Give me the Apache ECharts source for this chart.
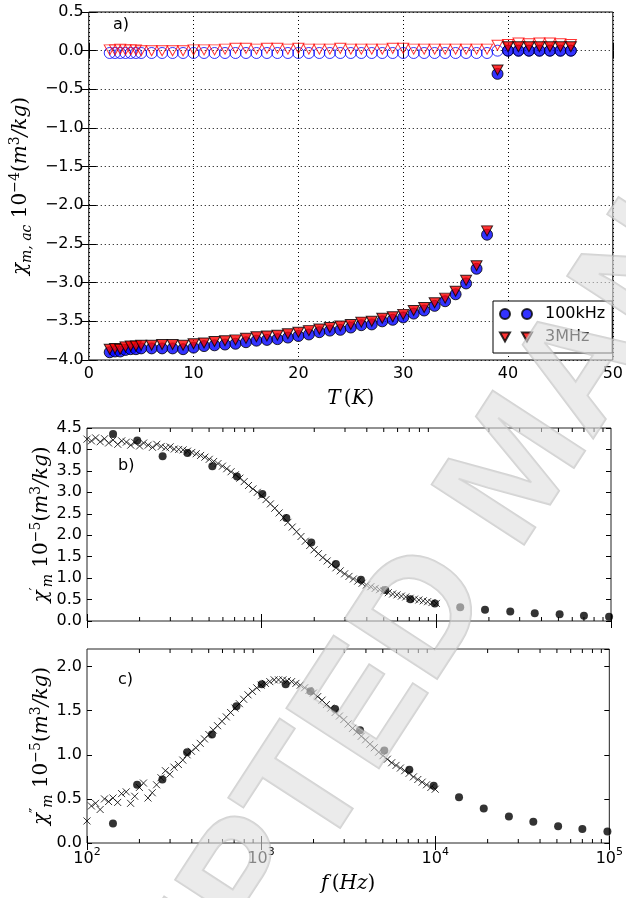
<!DOCTYPE html>
<html><head><meta charset="utf-8">
<script src="https://cdn.jsdelivr.net/npm/echarts@6/dist/echarts.min.js"></script>
<style>html,body{margin:0;padding:0;background:#fff}#c{width:626px;height:898px}</style>
</head><body><div id="c"></div>
<script>
// ---------- Panel a: chi_m,ac vs T ----------
const T = [2,2.5,3,3.5,4,4.5,5,
  6,7,8,9,10,11,12,13,14,15,
  16,17,18,19,20,21,22,23,24,25,
  26,27,28,29,30,31,32,33,34,35,
  36,37,38,39,
  40,41,42,43,44,45,46];
const chiRe100k = [-3.90,-3.89,-3.89,-3.87,-3.86,-3.86,-3.85,
  -3.85,-3.85,-3.85,-3.86,-3.84,-3.82,-3.81,-3.80,-3.79,-3.77,
  -3.75,-3.74,-3.73,-3.71,-3.69,-3.67,-3.64,-3.62,-3.61,-3.58,
  -3.55,-3.54,-3.50,-3.48,-3.45,-3.40,-3.36,-3.30,-3.24,-3.15,
  -3.01,-2.82,-2.38,-0.30,
  0.00,0.00,0.00,0.00,0.00,0.00,0.00];
const chiRe3M = [-3.86,-3.85,-3.86,-3.83,-3.82,-3.82,-3.81,
  -3.81,-3.80,-3.80,-3.81,-3.79,-3.78,-3.76,-3.75,-3.74,-3.72,
  -3.70,-3.69,-3.68,-3.66,-3.64,-3.62,-3.60,-3.58,-3.56,-3.54,
  -3.51,-3.50,-3.46,-3.44,-3.41,-3.36,-3.32,-3.26,-3.20,-3.11,
  -2.97,-2.78,-2.33,-0.25,
  0.05,0.05,0.05,0.05,0.05,0.05,0.05];
const chiIm100k = [-0.03,-0.03,-0.03,-0.03,-0.03,-0.03,-0.03,
  -0.03,-0.03,-0.03,-0.03,-0.03,-0.03,-0.03,-0.03,-0.03,-0.03,
  -0.03,-0.03,-0.03,-0.03,-0.03,-0.03,-0.03,-0.03,-0.03,-0.03,
  -0.03,-0.03,-0.03,-0.03,-0.03,-0.03,-0.03,-0.03,-0.03,-0.03,
  -0.03,-0.03,-0.03,0.00,
  0.00,0.00,0.00,0.00,0.00,0.00,0.00];
const chiIm3M = [0.01,0.01,0.02,0.01,0.01,0.01,0.00,
  0.00,0.00,0.00,0.00,0.01,0.01,0.01,0.02,0.03,0.03,
  0.02,0.03,0.03,0.02,0.03,0.02,0.02,0.02,0.03,0.02,
  0.02,0.02,0.02,0.03,0.03,0.02,0.02,0.02,0.02,0.02,
  0.02,0.02,0.02,0.07,
  0.08,0.10,0.09,0.10,0.10,0.09,0.08];

// ---------- Panels b, c: chi' and chi'' vs f ----------
const freqDots = [141,194,271,376,522,722,1009,1384,1923,2660,3700,5100,7100,9800,13700,19000,26500,36600,50800,70000,97500];
const chiPrimeDots = [4.36,4.21,3.84,3.92,3.61,3.37,2.96,2.40,1.83,1.33,0.96,0.72,0.51,0.41,0.32,0.26,0.22,0.18,0.16,0.12,0.10];
const chiDPrimeDots = [0.22,0.66,0.72,1.03,1.23,1.55,1.80,1.80,1.72,1.52,1.28,1.05,0.83,0.65,0.52,0.39,0.30,0.24,0.19,0.16,0.13];

const freqFit = [100,106,112,119,126,133,141,150,158,168,
  178,188,200,211,224,237,251,266,282,299,
  316,335,355,376,398,422,447,473,501,531,
  562,596,631,668,708,750,794,841,891,944,
  1000,1059,1122,1189,1259,1334,1413,1496,1585,1679,
  1778,1884,1995,2113,2239,2371,2512,2661,2818,2985,
  3162,3350,3548,3758,3981,4217,4467,4732,5012,5309,
  5623,5957,6310,6683,7079,7499,7943,8414,8913,9441,
  10000];
const chiPrimeFit = [4.24,4.20,4.27,4.18,4.25,4.15,4.22,4.12,4.20,4.17,
  4.10,4.16,4.08,4.15,4.10,4.05,4.12,4.07,4.04,4.06,
  4.01,4.00,3.99,3.96,3.93,3.90,3.86,3.82,3.77,3.72,
  3.67,3.61,3.55,3.48,3.41,3.33,3.25,3.16,3.08,3.00,
  2.92,2.83,2.73,2.63,2.52,2.41,2.30,2.19,2.08,1.97,
  1.86,1.76,1.66,1.57,1.48,1.40,1.32,1.24,1.17,1.10,
  1.04,0.98,0.93,0.88,0.84,0.80,0.76,0.73,0.70,0.66,
  0.63,0.61,0.58,0.56,0.53,0.51,0.49,0.47,0.45,0.43,
  0.41];
const chiDPrimeFit = [0.25,0.42,0.45,0.38,0.50,0.47,0.51,0.46,0.56,0.58,
  0.45,0.53,0.63,0.68,0.51,0.57,0.66,0.74,0.82,0.78,
  0.86,0.89,0.94,1.00,1.04,1.08,1.13,1.18,1.23,1.28,
  1.33,1.38,1.43,1.48,1.53,1.58,1.63,1.68,1.72,1.76,
  1.79,1.81,1.83,1.85,1.85,1.85,1.84,1.83,1.81,1.79,
  1.76,1.73,1.70,1.66,1.62,1.57,1.53,1.48,1.44,1.40,
  1.35,1.30,1.26,1.21,1.17,1.12,1.08,1.03,0.99,0.95,
  0.91,0.88,0.85,0.82,0.79,0.75,0.72,0.69,0.66,0.63,
  0.61];

const minorTicks = [200,300,400,500,600,700,800,900,
  2000,3000,4000,5000,6000,7000,8000,9000,
  20000,30000,40000,50000,60000,70000,80000,90000];

const legendNames = ['100kHz','3MHz'];
const panelLabels = ['a)','b)','c)'];

// ---------- chart ----------
const zip = (xs, ys) => xs.map((x, i) => [x, ys[i]]);
const SANS = 'DejaVu Sans';
const SERIF = 'DejaVu Serif';
const fmt1 = v => (v < 0 ? '\u2212' : '') + Math.abs(v).toFixed(1);

const mathRich = {
  v: {fontFamily: SERIF, fontStyle: 'italic', fontSize: 20, lineHeight: 26, verticalAlign: 'middle', color: '#000'},
  r: {fontFamily: SERIF, fontSize: 20, lineHeight: 26, verticalAlign: 'middle', color: '#000'},
  sb: {fontFamily: SERIF, fontStyle: 'italic', fontSize: 14, lineHeight: 14, verticalAlign: 'bottom', color: '#000'},
  sp: {fontFamily: SERIF, fontSize: 14, lineHeight: 14, verticalAlign: 'top', color: '#000'}
};

function valueAxis(grid, pos, min, max, interval, showLabel, extra) {
  return Object.assign({
    type: 'value', gridIndex: grid, position: pos, min: min, max: max, interval: interval,
    axisLine: {show: false},
    axisTick: {show: true, inside: true, length: 7, lineStyle: {color: '#000', width: 1}},
    axisLabel: {show: showLabel, fontFamily: SANS, fontSize: 16, color: '#000', margin: 5,
      formatter: v => (Math.abs(v / interval - Math.round(v / interval)) < 1e-6 ? fmt1(v) : '')},
    splitLine: {show: false}
  }, extra || {});
}
function logAxis(grid, pos, showLabel, extra) {
  return Object.assign({
    type: 'log', logBase: 10, gridIndex: grid, position: pos, min: 100, max: 100000, splitNumber: 3,
    axisLine: {show: false},
    axisTick: {show: true, inside: true, length: 7, lineStyle: {color: '#000', width: 1}},
    axisLabel: {show: showLabel, margin: 4,
      formatter: v => '{b|10}{s|' + Math.round(Math.log10(v)) + '}',
      rich: {b: {fontFamily: SANS, fontSize: 16, color: '#000', lineHeight: 20, verticalAlign: 'bottom'},
             s: {fontFamily: SANS, fontSize: 11, color: '#000', lineHeight: 20, verticalAlign: 'top', padding: [0,0,8,0]}}},
    splitLine: {show: false}
  }, extra || {});
}
const dotted = {show: true, lineStyle: {color: '#000', type: [1, 3], width: 1}};
const tickA = {show: true, inside: true, length: 8, lineStyle: {color: '#000'}};

function minorTickSeries(xi, yi, ymin, ymax) {
  return {
    type: 'custom', xAxisIndex: xi, yAxisIndex: yi, silent: true, clip: false, z: 5,
    data: minorTicks.map(f => [f, ymin, ymax]),
    renderItem: (params, api) => {
      const b = api.coord([api.value(0), api.value(1)]);
      const t = api.coord([api.value(0), api.value(2)]);
      return {type: 'group', children: [
        {type: 'line', shape: {x1: b[0], y1: b[1], x2: b[0], y2: b[1] - 4}, style: {stroke: '#000', lineWidth: 1}},
        {type: 'line', shape: {x1: t[0], y1: t[1], x2: t[0], y2: t[1] + 4}, style: {stroke: '#000', lineWidth: 1}}
      ]};
    }
  };
}
const crossSym = 'path://M0,0L10,10M10,0L0,10';

const option = {
  animation: false,
  backgroundColor: '#fff',
  grid: [
    {left: 87, top: 12, width: 530, height: 348, show: true, borderColor: '#000', borderWidth: 1, backgroundColor: 'transparent'},
    {left: 87, top: 428, width: 524, height: 193, show: true, borderColor: '#222', borderWidth: 1, backgroundColor: 'transparent'},
    {left: 87, top: 649, width: 524, height: 194, show: true, borderColor: '#222', borderWidth: 1, backgroundColor: 'transparent'}
  ],
  xAxis: [
    valueAxis(0, 'bottom', 0, 50, 10, true, {splitLine: dotted, axisTick: tickA,
      axisLabel: {show: true, fontFamily: SANS, fontSize: 16, color: '#000', margin: 6, formatter: v => String(Math.round(v))},
      name: '{v|T} {r|(}{v|K}{r|)}', nameLocation: 'middle', nameGap: 26, nameTextStyle: {rich: mathRich}}),
    valueAxis(0, 'top', 0, 50, 10, false, {axisTick: tickA}),
    logAxis(1, 'bottom', false),
    logAxis(1, 'top', false),
    logAxis(2, 'bottom', true, {name: '{v|f} {r|(}{v|Hz}{r|)}', nameLocation: 'middle', nameGap: 28, nameTextStyle: {rich: mathRich}}),
    logAxis(2, 'top', false)
  ],
  yAxis: [
    valueAxis(0, 'left', -4, 0.5, 0.5, true, {splitLine: dotted, axisTick: tickA,
      name: '{v|χ}{sb|m, ac}{r| 10}{sp|\u22124}{r|(}{v|m}{sp|3}{v|/kg}{r|)}', nameLocation: 'middle', nameRotate: 90, nameGap: 46,
      nameTextStyle: {rich: mathRich}}),
    valueAxis(0, 'right', -4, 0.5, 0.5, false, {axisTick: tickA}),
    valueAxis(1, 'left', 0, 4.5, 0.5, true, {axisTick: {show: true, inside: true, length: 5, lineStyle: {color: '#000'}},
      name: '{v|χ}{sp|\u2032}{sb|m}{r| 10}{sp|\u22125}{r|(}{v|m}{sp|3}{v|/kg}{r|)}', nameLocation: 'middle', nameRotate: 90, nameGap: 32,
      nameMoveOverlap: false, nameTextStyle: {rich: mathRich}}),
    valueAxis(1, 'right', 0, 4.5, 0.5, false, {axisTick: {show: true, inside: true, length: 5, lineStyle: {color: '#000'}}}),
    valueAxis(2, 'left', 0, 2.2, 0.5, true, {axisTick: {show: true, inside: true, length: 5, lineStyle: {color: '#000'}},
      axisLabel: {show: true, fontFamily: SANS, fontSize: 16, color: '#000', margin: 5, showMaxLabel: false,
        formatter: v => (Math.abs(v * 2 - Math.round(v * 2)) < 1e-6 ? fmt1(v) : '')},
      name: '{v|χ}{sp|\u2033}{sb|m}{r| 10}{sp|\u22125}{r|(}{v|m}{sp|3}{v|/kg}{r|)}', nameLocation: 'middle', nameRotate: 90, nameGap: 32,
      nameMoveOverlap: false, nameTextStyle: {rich: mathRich}}),
    valueAxis(2, 'right', 0, 2.2, 0.5, false, {axisTick: {show: true, inside: true, length: 5, lineStyle: {color: '#000'}}})
  ],
  legend: {
    data: [
      {name: legendNames[0], icon: 'path://M0,5a5,5 0 1,0 10,0a5,5 0 1,0 -10,0zM22,5a5,5 0 1,0 10,0a5,5 0 1,0 -10,0z'},
      {name: legendNames[1], icon: 'path://M0,0L10,0L5,9ZM22,0L32,0L27,9Z'}
    ],
    orient: 'vertical', left: 493, top: 301,
    padding: [5, 7, 8, 6], itemGap: 7, itemWidth: 32, itemHeight: 10,
    backgroundColor: '#fff', borderColor: '#000', borderWidth: 1, borderRadius: 0,
    textStyle: {fontFamily: SANS, fontSize: 16, color: '#000', lineHeight: 16, padding: [0, 0, 0, 8]},
    selectedMode: false
  },
  series: [
    {name: 'im100k', type: 'scatter', xAxisIndex: 0, yAxisIndex: 0, data: zip(T, chiIm100k), symbol: 'circle', symbolSize: 11,
      itemStyle: {color: 'transparent', borderColor: '#0000ff', borderWidth: 1}, z: 3},
    {name: 'im3M', type: 'scatter', xAxisIndex: 0, yAxisIndex: 0, data: zip(T, chiIm3M), symbol: 'triangle', symbolRotate: 180, symbolSize: [11, 10],
      itemStyle: {color: 'transparent', borderColor: '#ff0000', borderWidth: 1}, z: 3},
    {name: legendNames[0], type: 'scatter', xAxisIndex: 0, yAxisIndex: 0, data: zip(T, chiRe100k), symbol: 'circle', symbolSize: 11,
      itemStyle: {color: '#0000ff', borderColor: '#000', borderWidth: 1}, z: 4},
    {name: legendNames[1], type: 'scatter', xAxisIndex: 0, yAxisIndex: 0, data: zip(T, chiRe3M), symbol: 'triangle', symbolRotate: 180, symbolSize: [11, 10],
      itemStyle: {color: '#ff0000', borderColor: '#000', borderWidth: 1}, z: 4},

    {type: 'scatter', xAxisIndex: 2, yAxisIndex: 2, data: zip(freqFit, chiPrimeFit), symbol: crossSym, symbolSize: 7,
      itemStyle: {color: 'transparent', borderColor: '#000', borderWidth: 1}, z: 3},
    {type: 'scatter', xAxisIndex: 2, yAxisIndex: 2, data: zip(freqDots, chiPrimeDots), symbol: 'circle', symbolSize: 8,
      itemStyle: {color: '#000'}, z: 4},
    minorTickSeries(2, 2, 0, 4.5),

    {type: 'scatter', xAxisIndex: 4, yAxisIndex: 4, data: zip(freqFit, chiDPrimeFit), symbol: crossSym, symbolSize: 7,
      itemStyle: {color: 'transparent', borderColor: '#000', borderWidth: 1}, z: 3},
    {type: 'scatter', xAxisIndex: 4, yAxisIndex: 4, data: zip(freqDots, chiDPrimeDots), symbol: 'circle', symbolSize: 8,
      itemStyle: {color: '#000'}, z: 4},
    minorTickSeries(4, 4, 0, 2.2)
  ],
  graphic: [
    {type: 'text', left: 113, top: 17, style: {text: panelLabels[0], font: '16px "DejaVu Sans"', fill: '#000'}},
    {type: 'text', left: 118, top: 458, style: {text: panelLabels[1], font: '16px "DejaVu Sans"', fill: '#000'}},
    {type: 'text', left: 118, top: 672, style: {text: panelLabels[2], font: '16px "DejaVu Sans"', fill: '#000'}},
    {type: 'text', x: 520, y: 470, rotation: 57 * Math.PI / 180, z: 100, silent: true,
      style: {text: 'ACCEPTED MANUSCRIPT', font: 'bold 160px "Liberation Sans"',
        fill: 'rgba(222,222,222,0.6)', stroke: 'rgba(175,175,175,0.55)', lineWidth: 2,
        align: 'center', verticalAlign: 'middle', textAlign: 'center', textVerticalAlign: 'middle'}}
  ]
};
const chart = echarts.init(document.getElementById('c'), null, {renderer: 'canvas'});
chart.setOption(option);
</script>
</body></html>
